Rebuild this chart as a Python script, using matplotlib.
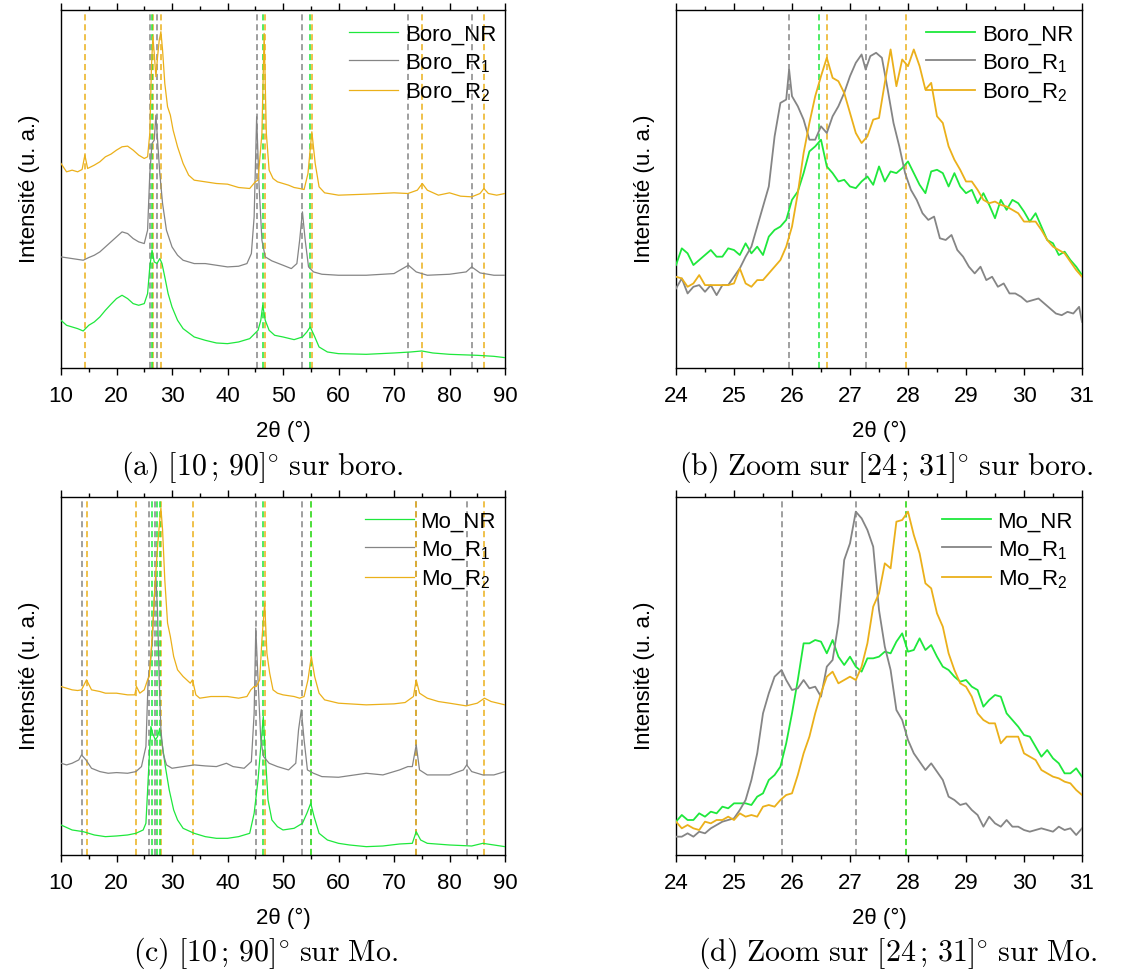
import numpy as np
import matplotlib
matplotlib.use("Agg")
import matplotlib.pyplot as plt

plt.rcParams['font.family'] = ['Liberation Sans', 'DejaVu Sans']
plt.rcParams['mathtext.fontset'] = 'cm'
plt.rcParams['mathtext.default'] = 'regular'

GREEN = '#1ee83c'
GRAY = '#858585'
ORANGE = '#ebb01a'

# ---------- (a) boro, full range ----------
boro_nr_x = [10, 11, 12, 13, 14, 15, 16, 17, 18, 19, 20, 21, 22, 23, 24, 25, 25.6, 26.0, 26.4, 26.8,
             27.3, 27.8, 28.2, 28.7, 29.3, 30, 31, 32, 34, 36, 38, 40, 42, 44, 45.5, 46.0, 46.35, 46.8,
             47.5, 48.5, 50, 52, 53.5, 54.3, 54.9, 55.6, 56.5, 58, 60, 65, 70, 73, 75, 77, 80, 85, 88, 90]
boro_nr_y = [143, 128, 123, 118, 111, 128, 138, 153, 173, 191, 208, 218, 208, 193, 188, 193, 223, 303, 353, 318,
             313, 328, 313, 273, 223, 183, 143, 118, 93, 83, 75, 73, 78, 88, 113, 143, 188, 143,
             113, 98, 93, 85, 93, 108, 123, 98, 63, 48, 43, 41, 45, 48, 51, 45, 41, 38, 35, 31]

boro_r1_x = [10, 12, 14, 15, 16, 17, 18, 19, 20, 21, 22, 23, 24, 25, 25.6, 26.0, 26.4, 26.8, 27.1, 27.4,
             27.8, 28.3, 29, 30, 31, 32, 34, 36, 38, 40, 42, 43.5, 44.3, 44.8, 45.25, 45.7, 46.2, 46.8,
             48, 50, 51.5, 52.5, 53.0, 53.5, 54.0, 54.6, 55.5, 57, 60, 65, 70, 72.6, 74, 76, 80, 83, 84,
             85.5, 88, 90]
boro_r1_y = [333, 328, 323, 331, 338, 348, 363, 378, 393, 408, 403, 388, 378, 373, 413, 583, 673, 683, 758, 683,
             583, 493, 413, 363, 338, 323, 313, 313, 308, 303, 305, 313, 343, 453, 753, 543, 383, 333,
             321, 308, 298, 313, 383, 468, 383, 303, 288, 281, 278, 278, 283, 308, 288, 278, 281, 288, 303,
             285, 278, 278]

boro_r2_x = [10, 11, 12, 13, 13.8, 14.3, 14.8, 16, 17, 18, 19, 20, 21, 22, 23, 24, 25, 25.6, 26.0, 26.3,
             26.55, 26.8, 27.1, 27.4, 27.7, 28.0, 28.3, 28.7, 29.2, 29.7, 30.2, 31, 32, 33, 34, 36, 38, 40,
             42, 44, 45.0, 45.5, 46.2, 46.6, 47.0, 47.5, 48.2, 49, 50, 51, 52, 53, 53.8, 54.5, 55.2, 55.8,
             56.5, 57.5, 60, 65, 70, 72.5, 74.2, 75.1, 76, 78, 80, 82, 84, 85.5, 86.2, 87, 88.5, 90]
boro_r2_y = [613, 588, 593, 588, 595, 638, 598, 608, 618, 633, 641, 653, 663, 665, 653, 638, 628, 633, 703, 903,
             993, 943, 873, 933, 983, 1008, 953, 853, 783, 758, 713, 663, 613, 578, 563, 558, 553, 551,
             541, 538, 558, 563, 703, 1003, 703, 593, 568, 558, 553, 548, 541, 538, 535, 583, 708, 613,
             543, 525, 518, 521, 525, 523, 533, 553, 533, 518, 525, 515, 513, 523, 538, 523, 518, 523]

a_ref_green = [26.47, 46.35, 54.85]
a_ref_gray = [25.95, 27.27, 45.3, 53.5, 72.6, 84.0]
a_ref_orange = [14.3, 26.6, 27.97, 46.75, 55.2, 75.1, 86.2]

# ---------- (b) boro, zoom 24-31 ----------
zoom_x = [round(24 + 0.1 * i, 2) for i in range(71)]
boro_nr_zoom = [308, 358, 343, 308, 323, 338, 353, 333, 333, 358,
                353, 338, 373, 343, 363, 338, 393, 413, 423, 443,
                503, 528, 583, 648, 663, 683, 603, 583, 558, 563,
                543, 538, 558, 573, 548, 603, 558, 588, 583, 598,
                618, 583, 548, 523, 588, 593, 583, 543, 583, 543,
                523, 533, 493, 523, 488, 448, 503, 473, 503, 493,
                468, 438, 463, 423, 383, 373, 338, 348, 323, 303, 278]
boro_r1_zoom_x = (zoom_x[:20] + [25.95] + zoom_x[20:33] + [27.27]
                  + [round(27.35 + 0.1 * i, 2) for i in range(37)] + [31.0])
boro_r1_zoom = [238, 268, 223, 243, 248, 228, 248, 218, 248, 248,
                273, 298, 333, 363, 423, 483, 543, 693, 793, 803, 893,
                813, 783, 743, 683, 683, 723, 703, 753, 783, 823, 873, 913, 938, 893,
                933, 943, 928, 833, 733, 663, 583, 533, 503, 463, 443, 453, 388, 383,
                398, 353, 333, 303, 283, 303, 263, 273, 243, 253, 223, 223, 213, 198,
                203, 208, 193, 178, 163, 158, 168, 163, 183, 138]
boro_r2_zoom = [273, 268, 243, 253, 278, 248, 248, 248, 248, 248,
                253, 298, 253, 243, 263, 263, 283, 303, 323, 363,
                423, 523, 643, 733, 813, 873, 928, 868, 858, 823,
                763, 703, 673, 693, 743, 748, 853, 953, 843, 923,
                903, 953, 903, 833, 853, 753, 733, 663, 623, 593,
                558, 558, 533, 503, 493, 498, 488, 483, 473, 463,
                438, 438, 438, 413, 383, 363, 353, 343, 318, 293, 273]
b_ref_green = [26.47]
b_ref_gray = [25.95, 27.27]
b_ref_orange = [26.6, 27.97]

# ---------- (c) Mo, full range ----------
mo_nr_x = [10, 12, 14, 16, 18, 20, 22, 23.5, 24.8, 25.3, 25.7, 26.0, 26.2, 26.5, 27.0, 27.4, 27.8, 28.3,
           28.8, 29.5, 30.3, 31, 32, 34, 36, 38, 40, 42, 44, 44.8, 45.5, 46.0, 46.45, 46.8, 47.3, 48, 49,
           50, 52, 53.5, 54.3, 55.0, 55.6, 56.5, 58, 60, 62, 65, 68, 71, 73.3, 74.0, 74.8, 76, 80, 84,
           86, 88, 90]
mo_nr_y = [90, 75, 70, 60, 55, 57, 60, 65, 75, 95, 225, 325, 385, 365, 345, 355, 380, 325,
           265, 195, 135, 105, 80, 65, 55, 50, 50, 55, 65, 125, 225, 325, 415, 305, 165, 105, 85,
           75, 80, 95, 125, 155, 115, 65, 45, 35, 30, 25, 27, 33, 35, 70, 45, 35, 30, 27,
           35, 30, 25]

mo_r1_x = [10, 11, 12, 13.2, 13.7, 14.5, 15.5, 17, 18.5, 20, 22, 23.5, 24.5, 25.3, 25.7, 26.1, 26.5,
           26.8, 27.1, 27.4, 27.7, 28.0, 28.4, 29, 30, 32, 34, 36, 38, 39.8, 41, 43, 44.3, 44.8, 45.1,
           45.5, 46, 46.5, 47.5, 49, 51, 52.3, 52.8, 53.3, 53.8, 54.4, 55.5, 57, 60, 65, 68, 71, 72.5,
           73.3, 74.0, 74.6, 76, 80, 82.5, 83.1, 84, 86, 88, 90]
mo_r1_y = [275, 270, 275, 285, 300, 285, 260, 250, 245, 247, 245, 250, 265, 325, 525, 575, 655,
           775, 835, 725, 525, 375, 305, 270, 260, 265, 270, 267, 265, 275, 265, 260, 280, 425, 680,
           525, 345, 295, 275, 265, 255, 275, 375, 435, 345, 255, 245, 235, 233, 245, 240, 255, 265,
           265, 330, 255, 240, 240, 255, 270, 250, 240, 240, 250]

mo_r2_x = [10, 11, 12, 13, 13.7, 14.6, 15.5, 17, 18, 20, 22, 23.3, 23.6, 24.2, 25, 25.6, 25.9, 26.3,
           26.6, 27.0, 27.4, 27.8, 28.0, 28.3, 28.7, 29.2, 29.7, 30.3, 31, 32, 33.3, 33.7, 34.3, 35, 37,
           40, 42, 43.5, 44.2, 44.8, 45.2, 45.8, 46.2, 46.7, 47.1, 47.6, 48.2, 49, 50, 52, 53, 53.8,
           54.5, 55.1, 55.7, 56.5, 57.5, 60, 65, 70, 72, 73.5, 74.0, 74.6, 76, 78, 80, 83, 85, 86.3,
           87.5, 90]
mo_r2_y = [505, 500, 495, 493, 495, 525, 495, 490, 485, 485, 480, 480, 505, 485, 495, 525, 535, 625,
           705, 825, 925, 1005, 1040, 975, 825, 695, 655, 595, 555, 535, 515, 525, 480, 470, 475,
           475, 470, 475, 495, 505, 505, 525, 645, 755, 605, 545, 495, 485, 480, 475, 470, 475,
           525, 595, 535, 485, 465, 455, 450, 453, 457, 475, 525, 485, 470, 460, 455, 447, 455, 470,
           460, 450]

c_ref_green = [26.4, 27.35, 27.85, 46.45, 55.0]
c_ref_gray = [13.7, 25.85, 26.9, 45.1, 53.4, 74.0, 83.1]
c_ref_orange = [14.6, 23.6, 27.95, 33.7, 46.75, 55.1, 73.9, 86.3]

# ---------- (d) Mo, zoom 24-31 ----------
mo_nr_zoom = [100, 120, 105, 105, 125, 115, 130, 125, 145, 140,
              155, 155, 155, 150, 175, 185, 225, 240, 265, 335,
              425, 525, 635, 635, 645, 640, 605, 645, 595, 570,
              595, 565, 550, 590, 590, 595, 610, 605, 640, 665,
              610, 615, 650, 615, 630, 595, 565, 555, 535, 520,
              525, 505, 495, 445, 465, 480, 475, 425, 405, 385,
              360, 355, 325, 295, 315, 290, 275, 245, 245, 260, 235]
mo_r1_zoom_x = zoom_x[:18] + [25.82] + zoom_x[19:]
mo_r1_zoom = [55, 55, 65, 55, 70, 65, 80, 90, 100, 105,
              110, 135, 165, 225, 305, 425, 485, 535, 555,
              525, 495, 500, 525, 500, 505, 475, 565, 585, 695,
              885, 935, 1030, 1010, 975, 925, 735, 625, 555, 435,
              405, 345, 305, 280, 255, 275, 250, 225, 175, 165,
              150, 155, 135, 120, 85, 115, 95, 85, 105, 85,
              85, 75, 70, 75, 80, 75, 70, 85, 75, 80, 60, 80]
mo_r2_zoom = [100, 80, 90, 80, 75, 100, 95, 105, 105, 115,
              105, 125, 115, 120, 115, 145, 150, 145, 165, 180,
              185, 240, 305, 355, 425, 485, 535, 550, 515, 525,
              535, 525, 565, 635, 745, 785, 875, 860, 1000, 1005,
              1030, 960, 905, 815, 800, 725, 685, 605, 555, 515,
              505, 475, 425, 405, 395, 395, 335, 355, 355, 355,
              305, 295, 285, 255, 245, 235, 230, 220, 215, 195, 180]
d_ref_green = [27.97]
d_ref_gray = [25.82, 27.1]
d_ref_orange = [27.97]

captions = [r'$\mathrm{(a)\ [10\,;\,90]^{\circ}\ sur\ boro.}$',
            r'$\mathrm{(b)\ Zoom\ sur\ [24\,;\,31]^{\circ}\ sur\ boro.}$',
            r'$\mathrm{(c)\ [10\,;\,90]^{\circ}\ sur\ Mo.}$',
            r'$\mathrm{(d)\ Zoom\ sur\ [24\,;\,31]^{\circ}\ sur\ Mo.}$']


def style_axes(ax, xmin, xmax, major, minor, ytop):
    ax.set_xlim(xmin, xmax)
    ax.set_ylim(0, ytop)
    ax.set_xticks(np.arange(xmin, xmax + 0.01, major))
    ax.set_xticks(np.arange(xmin + minor, xmax, major), minor=True)
    ax.set_yticks([])
    ax.tick_params(axis='x', which='both', direction='out', top=True, labelsize=16, pad=8)
    ax.tick_params(axis='x', which='major', length=5, width=1)
    ax.tick_params(axis='x', which='minor', length=3, width=1)
    for sp in ax.spines.values():
        sp.set_linewidth(1.0)
    ax.set_xlabel('2θ (°)', fontsize=16, labelpad=10)
    ax.set_ylabel('Intensité (u. a.)', fontsize=16, labelpad=15)


def ref_lines(ax, greens, grays, oranges):
    for v in grays:
        ax.axvline(v, color=GRAY, lw=1.1, ls=(0, (4, 2.5)), zorder=1)
    for v in oranges:
        ax.axvline(v, color=ORANGE, lw=1.1, ls=(0, (4, 2.5)), zorder=1)
    for v in greens:
        ax.axvline(v, color=GREEN, lw=1.1, ls=(0, (4, 2.5)), zorder=1)


def add_legend(ax):
    leg = ax.legend(loc='upper right', bbox_to_anchor=(1.0, 0.985), frameon=False, fontsize=16,
                    handlelength=2.2, handletextpad=0.3, labelspacing=0.3, borderaxespad=0.0)
    return leg


fig = plt.figure(figsize=(11.39, 9.76), dpi=100)
W, H = 1139, 976
ax_a = fig.add_axes([61 / W, 1 - 368 / H, 444 / W, 358 / H])
ax_b = fig.add_axes([676 / W, 1 - 368 / H, 406 / W, 358 / H])
ax_c = fig.add_axes([61 / W, 1 - 855 / H, 444 / W, 358 / H])
ax_d = fig.add_axes([676 / W, 1 - 855 / H, 406 / W, 358 / H])

# (a)
ax_a.plot(boro_nr_x, boro_nr_y, color=GREEN, lw=0.9, label='Boro_NR', zorder=3)
ax_a.plot(boro_r1_x, boro_r1_y, color=GRAY, lw=0.9, label='Boro_R$_1$', zorder=3)
ax_a.plot(boro_r2_x, boro_r2_y, color=ORANGE, lw=0.9, label='Boro_R$_2$', zorder=3)
ref_lines(ax_a, a_ref_green, a_ref_gray, a_ref_orange)
style_axes(ax_a, 10, 90, 10, 5, 1073)
add_legend(ax_a)

# (b)
ax_b.plot(zoom_x, boro_nr_zoom, color=GREEN, lw=1.3, label='Boro_NR', zorder=3)
ax_b.plot(boro_r1_zoom_x, boro_r1_zoom, color=GRAY, lw=1.3, label='Boro_R$_1$', zorder=3)
ax_b.plot(zoom_x, boro_r2_zoom, color=ORANGE, lw=1.3, label='Boro_R$_2$', zorder=3)
ref_lines(ax_b, b_ref_green, b_ref_gray, b_ref_orange)
style_axes(ax_b, 24, 31, 1, 0.5, 1071)
add_legend(ax_b)

# (c)
ax_c.plot(mo_nr_x, mo_nr_y, color=GREEN, lw=0.9, label='Mo_NR', zorder=3)
ax_c.plot(mo_r1_x, mo_r1_y, color=GRAY, lw=0.9, label='Mo_R$_1$', zorder=3)
ax_c.plot(mo_r2_x, mo_r2_y, color=ORANGE, lw=0.9, label='Mo_R$_2$', zorder=3)
ref_lines(ax_c, c_ref_green, c_ref_gray, c_ref_orange)
style_axes(ax_c, 10, 90, 10, 5, 1073)
add_legend(ax_c)

# (d)
ax_d.plot(zoom_x, mo_nr_zoom, color=GREEN, lw=1.3, label='Mo_NR', zorder=3)
ax_d.plot(mo_r1_zoom_x, mo_r1_zoom, color=GRAY, lw=1.3, label='Mo_R$_1$', zorder=3)
ax_d.plot(zoom_x, mo_r2_zoom, color=ORANGE, lw=1.3, label='Mo_R$_2$', zorder=3)
ref_lines(ax_d, d_ref_green, d_ref_gray, d_ref_orange)
style_axes(ax_d, 24, 31, 1, 0.5, 1074)
add_legend(ax_d)

# captions under each panel
cap_pos = [(262 / W, 1 - 467 / H), (886 / W, 1 - 467 / H),
           (265 / W, 1 - 953 / H), (897 / W, 1 - 953 / H)]
for (cx, cy), txt in zip(cap_pos, captions):
    fig.text(cx, cy, txt, ha='center', va='center', fontsize=21.5)

fig.savefig('out.png', dpi=100)
